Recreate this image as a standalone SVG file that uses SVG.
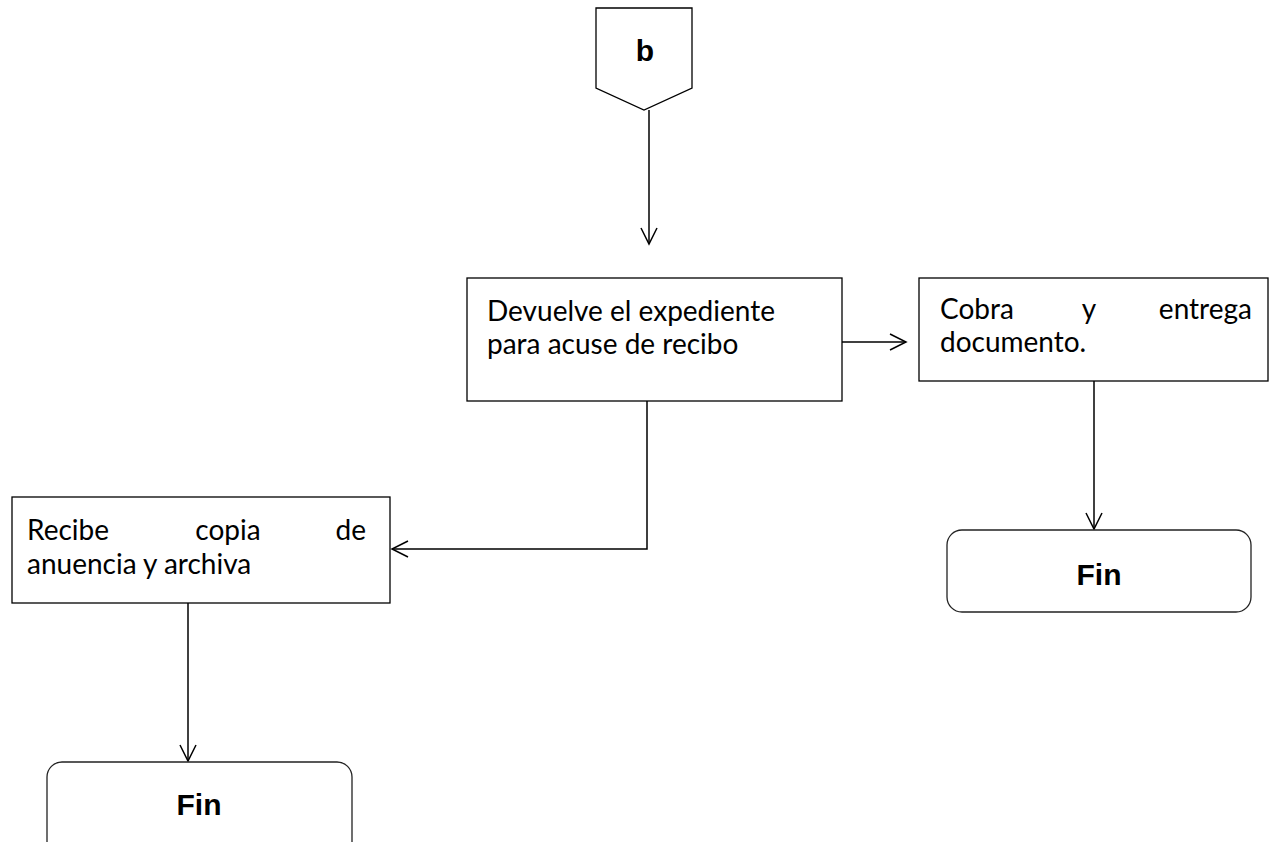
<svg xmlns="http://www.w3.org/2000/svg" width="1274" height="842" viewBox="0 0 1274 842">
  <defs>
    <marker id="open-arrow" viewBox="0 0 20 20" refX="18" refY="10" markerWidth="20" markerHeight="20" markerUnits="userSpaceOnUse" orient="auto">
      <path d="M2,2 L18,10 L2,18" fill="none" stroke="#000" stroke-width="1.5"/>
    </marker>
    <style>
      .box { fill: #fff; stroke: #000; stroke-width: 1.3; }
      .term { fill: #fff; stroke: #222; stroke-width: 1.3; }
      .body { font-family: Lato, "Open Sans", sans-serif; font-size: 28px; fill: #000; }
      .bold { font-family: "Liberation Sans", Arial, sans-serif; font-size: 30px; font-weight: bold; fill: #000; }
      .wire { fill: none; stroke: #000; stroke-width: 1.5; }
    </style>
  </defs>
  <rect width="1274" height="842" fill="#fff"/>

  <g id="connectors">
    <path class="wire" d="M649,110 V244" marker-end="url(#open-arrow)"/>
    <path class="wire" d="M842,342 H906" marker-end="url(#open-arrow)"/>
    <path class="wire" d="M647,401 V549 H392" marker-end="url(#open-arrow)"/>
    <path class="wire" d="M1094,381 V529" marker-end="url(#open-arrow)"/>
    <path class="wire" d="M188,603 V761" marker-end="url(#open-arrow)"/>
  </g>

  <g id="offpage-b">
    <path class="box" d="M596,8 H692 V88 L644,110 L596,88 Z"/>
    <text class="bold" x="645" y="61" text-anchor="middle">b</text>
  </g>

  <g id="devuelve">
    <rect class="box" x="467" y="278" width="375" height="123"/>
    <text class="body" x="487" y="321">Devuelve el expediente</text>
    <text class="body" x="487" y="354">para acuse de recibo</text>
  </g>

  <g id="cobra">
    <rect class="box" x="919" y="278" width="349" height="103"/>
    <text class="body" x="940" y="319">Cobra</text>
    <text class="body" x="1089" y="319" text-anchor="middle">y</text>
    <text class="body" x="1252" y="319" text-anchor="end">entrega</text>
    <text class="body" x="940" y="352">documento.</text>
  </g>

  <g id="recibe">
    <rect class="box" x="12" y="497" width="378" height="106"/>
    <text class="body" x="27" y="540">Recibe</text>
    <text class="body" x="228" y="540" text-anchor="middle">copia</text>
    <text class="body" x="366" y="540" text-anchor="end">de</text>
    <text class="body" x="27" y="574">anuencia y archiva</text>
  </g>

  <g id="fin-right">
    <rect class="term" x="947" y="530" width="304" height="82" rx="15" ry="15"/>
    <text class="bold" x="1099" y="585" text-anchor="middle">Fin</text>
  </g>

  <g id="fin-left">
    <rect class="term" x="47" y="762" width="305" height="100" rx="15" ry="15"/>
    <text class="bold" x="199" y="815" text-anchor="middle">Fin</text>
  </g>
</svg>
